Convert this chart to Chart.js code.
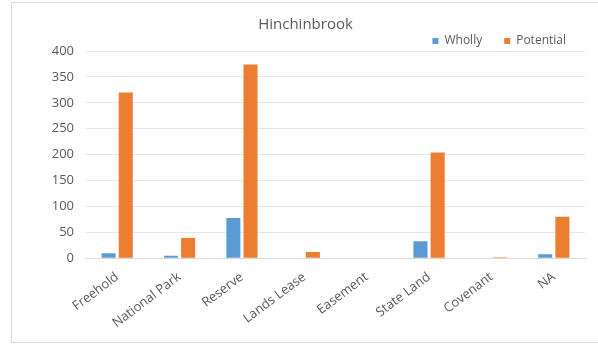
<!DOCTYPE html>
<html>
<head>
<meta charset="utf-8">
<script src="https://cdn.jsdelivr.net/npm/chart.js@4"></script>
<style>
  body { margin: 0; background: #fff; }
  #frame {
    position: absolute; left: 11px; top: 2px;
    width: 586px; height: 339px;
    border: 1px solid #d9d9d9;
  }
  #wrap { position: absolute; left: 0; top: 0; width: 586px; height: 339px; }
</style>
</head>
<body>
<div id="frame"><div id="wrap"><canvas id="myChart"></canvas></div></div>
<script>
// land tenure counts
const tenures = ['Freehold', 'National Park', 'Reserve', 'Lands Lease', 'Easement', 'State Land', 'Covenant', 'NA']
const wholly = [10, 5, 78, 0, 0, 33, 0, 8]
const potential = [320, 39, 374, 12, 0, 204, 2, 80]
const yTicks = [0, 50, 100, 150, 200, 250, 300, 350, 400]

const grey = '#595959'
Chart.defaults.font.family = "'Open Sans', sans-serif"
Chart.defaults.color = grey

// wide gap between legend items, but keep the legend short and tight above the plot
const legendTweak = {
    id: 'legendTweak',
    beforeUpdate: chart => {
        const leg = chart.legend
        if (leg && !leg._tweaked) {
            const fit = leg.fit.bind(leg)
            leg.fit = function () {
                fit()
                this.height -= 25
            }
            leg._tweaked = true
        }
    },
    afterUpdate: chart => {
        const leg = chart.legend
        leg.top -= 19
        leg.bottom = leg.top + 50
        leg.height = 50
        leg.left += 3
        leg.right += 3
    }
}

const ctx = document.getElementById('myChart')

new Chart(ctx, {
    type: 'bar',
    data: {
        labels: tenures,
        datasets: [{
            label: 'Wholly',
            data: wholly,
            backgroundColor: '#5B9BD5'
        }, {
            label: 'Potential',
            data: potential,
            backgroundColor: '#ED7D31'
        }]
    },
    plugins: [legendTweak],
    options: {
        responsive: true,
        maintainAspectRatio: false,
        animation: false,
        categoryPercentage: 0.55,
        barPercentage: 0.82,
        layout: { padding: { left: 14, right: 13, top: 8, bottom: 8 } },
        plugins: {
            title: {
                display: true,
                text: 'Hinchinbrook',
                color: grey,
                font: { size: 15, weight: 'normal', lineHeight: 1 },
                padding: { top: 6, bottom: 0 }
            },
            legend: {
                align: 'end',
                labels: {
                    boxWidth: 6,
                    boxHeight: 6,
                    padding: 22,
                    color: grey,
                    font: { size: 12 }
                }
            },
            tooltip: { enabled: false }
        },
        scales: {
            x: {
                grid: { display: false },
                border: { color: '#d9d9d9' },
                ticks: {
                    minRotation: 37,
                    maxRotation: 37,
                    font: { size: 13 },
                    color: grey
                }
            },
            y: {
                min: 0,
                max: 400,
                afterBuildTicks: axis => { axis.ticks = yTicks.map(v => ({ value: v })) },
                afterFit: axis => { axis.width = 60 },
                grid: { color: '#e6e6e6', drawTicks: false },
                border: { display: false },
                ticks: { padding: 12, font: { size: 13 }, color: grey }
            }
        }
    }
})
</script>
</body>
</html>
